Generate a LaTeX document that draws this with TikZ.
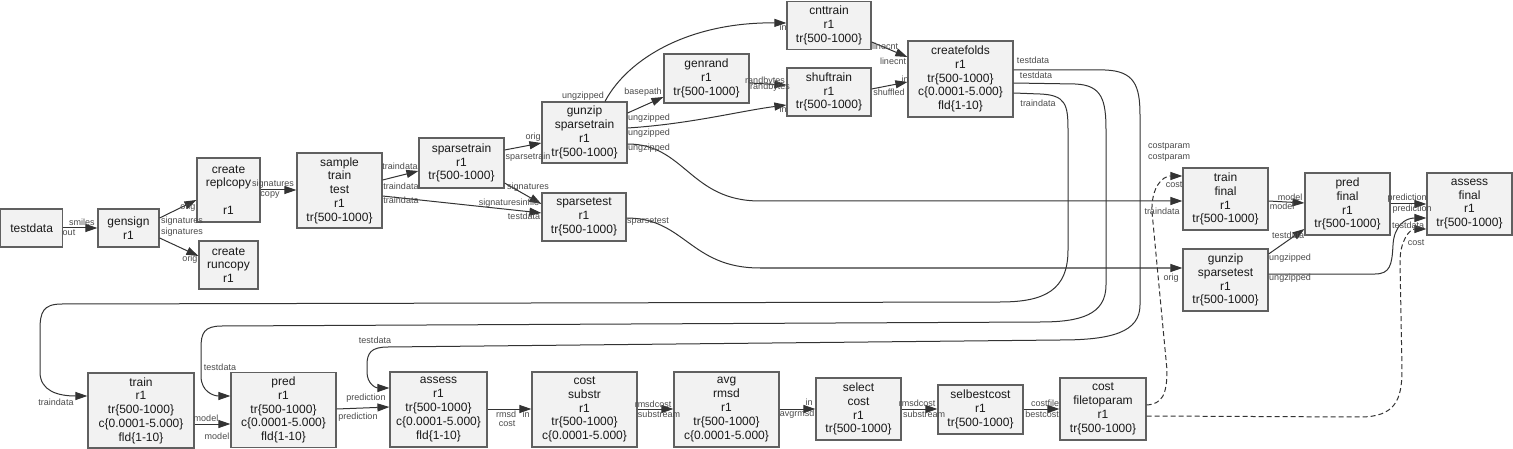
\documentclass[tikz,border=0pt]{standalone}
\usepackage{fontspec}
\setmainfont{Liberation Sans}
\usetikzlibrary{arrows.meta}
\definecolor{boxfill}{HTML}{F2F2F2}
\definecolor{boxline}{HTML}{606060}
\definecolor{edgecol}{HTML}{333333}
\definecolor{labcol}{HTML}{4A4A4A}
\begin{document}
\begin{tikzpicture}[x=1pt,y=-1pt,
  box/.style={draw=boxline,fill=boxfill,line width=1.2pt,inner sep=0pt,align=center,
    font=\fontsize{12}{13.8}\selectfont,text=black!90},
  sz/.style 2 args={minimum width=#1pt,minimum height=#2pt},
  lab/.style={inner sep=0pt,font=\fontsize{9}{10}\selectfont,text=labcol},
  edge/.style={draw=edgecol,line width=1pt,-{Triangle[length=12pt,width=8pt]}},
  dedge/.style={edge,dash pattern=on 5pt off 3pt}]
\useasboundingbox (0,0) rectangle (1513,449);

% ---------- nodes ----------
\node[box,sz={62}{38}] (testdata) at (31.6,228) {testdata};
\node[box,sz={61}{38}] (gensign) at (128.5,228) {gensign\\r1};
\node[box,sz={63}{64}] (replcopy) at (228.5,190) {create\\replcopy\\~\\r1};
\node[box,sz={59}{48}] (runcopy) at (228.5,265) {create\\runcopy\\r1};
\node[box,sz={85}{75}] (sample) at (339.5,190.5) {sample\\train\\test\\r1\\tr\{500-1000\}};
\node[box,sz={85}{50}] (sparsetrain) at (461.5,163) {sparsetrain\\r1\\tr\{500-1000\}};
\node[box,sz={84}{48}] (sparsetest) at (584,217) {sparsetest\\r1\\tr\{500-1000\}};
\node[box,sz={85}{61}] (gunzipsparsetrain) at (584.5,132.5) {gunzip\\sparsetrain\\r1\\tr\{500-1000\}};
\node[box,sz={85}{49}] (genrand) at (706.5,78.5) {genrand\\r1\\tr\{500-1000\}};
\node[box,sz={84}{48}] (cnttrain) at (829,25.5) {cnttrain\\r1\\tr\{500-1000\}};
\node[box,sz={84}{48}] (shuftrain) at (829,92) {shuftrain\\r1\\tr\{500-1000\}};
\node[box,sz={105}{76}] (createfolds) at (960.5,79) {createfolds\\r1\\tr\{500-1000\}\\c\{0.0001-5.000\}\\fld\{1-10\}};
\node[box,sz={85}{62}] (trainfinal) at (1225.5,199) {train\\final\\r1\\tr\{500-1000\}};
\node[box,sz={85}{62}] (predfinal) at (1347.5,204) {pred\\final\\r1\\tr\{500-1000\}};
\node[box,sz={85}{62}] (assessfinal) at (1469.5,204) {assess\\final\\r1\\tr\{500-1000\}};
\node[box,sz={85}{62}] (gunzipsparsetest) at (1225.5,280) {gunzip\\sparsetest\\r1\\tr\{500-1000\}};
\node[box,sz={106}{75}] (train) at (141,410.5) {train\\r1\\tr\{500-1000\}\\c\{0.0001-5.000\}\\fld\{1-10\}};
\node[box,sz={105}{75}] (pred) at (283.5,410) {pred\\r1\\tr\{500-1000\}\\c\{0.0001-5.000\}\\fld\{1-10\}};
\node[box,sz={97}{75}] (assess) at (438.5,409.5) {assess\\r1\\tr\{500-1000\}\\c\{0.0001-5.000\}\\fld\{1-10\}};
\node[box,sz={105}{75}] (costsubstr) at (584.5,409.5) {cost\\substr\\r1\\tr\{500-1000\}\\c\{0.0001-5.000\}};
\node[box,sz={105}{75}] (avgrmsd) at (726.5,409.5) {avg\\rmsd\\r1\\tr\{500-1000\}\\c\{0.0001-5.000\}};
\node[box,sz={85}{62}] (selectcost) at (858.5,409) {select\\cost\\r1\\tr\{500-1000\}};
\node[box,sz={85}{49}] (selbestcost) at (980.5,409.5) {selbestcost\\r1\\tr\{500-1000\}};
\node[box,sz={86}{62}] (costfiletoparam) at (1103,409) {cost\\filetoparam\\r1\\tr\{500-1000\}};

% ---------- straight connectors ----------
\draw[edge] (testdata.east |- 0,228) -- (gensign.west |- 0,228);
\draw[edge] (gensign.east |- 0,218) -- (replcopy.west |- 0,200);
\draw[edge] (gensign.east |- 0,238) -- (runcopy.west |- 0,256);
\draw[edge] (replcopy.east |- 0,190) -- (sample.west |- 0,190);
\draw[edge] (sample.east |- 0,180) -- (sparsetrain.west |- 0,171);
\draw[edge] (sample.east |- 0,196) -- (sparsetest.west |- 0,213);
\draw[edge] (sparsetrain.east |- 0,183) -- (sparsetest.west |- 0,204);
\draw[edge] (sparsetrain.east |- 0,150) -- (gunzipsparsetrain.west |- 0,143);
\draw[edge] (gunzipsparsetrain.east |- 0,113) -- (genrand.west |- 0,97);
\draw[edge] (gunzipsparsetrain.east |- 0,128) .. controls (690,124) and (740,111) .. (shuftrain.west |- 0,105);
\draw[edge] (genrand.east |- 0,83) -- (shuftrain.west |- 0,85);
\draw[edge] (cnttrain.east |- 0,42) -- (createfolds.west |- 0,57);
\draw[edge] (shuftrain.east |- 0,89) -- (createfolds.west |- 0,82);
\draw[edge] (train.east |- 0,424) -- (pred.west |- 0,424);
\draw[edge] (pred.east |- 0,409) -- (assess.west |- 0,407);
\draw[edge] (assess.east |- 0,409) -- (costsubstr.west |- 0,409);
\draw[edge] (costsubstr.east |- 0,409) -- (avgrmsd.west |- 0,409);
\draw[edge] (avgrmsd.east |- 0,409) -- (selectcost.west |- 0,409);
\draw[edge] (selectcost.east |- 0,409) -- (selbestcost.west |- 0,409);
\draw[edge] (selbestcost.east |- 0,409) -- (costfiletoparam.west |- 0,409);
\draw[edge] (trainfinal.east |- 0,201) -- (predfinal.west |- 0,203);
\draw[edge] (gunzipsparsetest.east |- 0,254) -- (predfinal.west |- 0,229);
\draw[edge] (predfinal.east |- 0,204) -- (assessfinal.west |- 0,204);

% ---------- curved connectors ----------
\draw[edge] (gunzipsparsetrain.north -| 605,0) .. controls (628,58) and (690,22) .. (cnttrain.west |- 0,23);
\draw[edge] (gunzipsparsetrain.east |- 0,144) .. controls (685,144) and (690,201) .. (760,201) -- (trainfinal.west |- 0,201);
\draw[edge] (sparsetest.east |- 0,218) .. controls (685,218) and (690,268) .. (760,268) -- (gunzipsparsetest.west |- 0,268);
% createfolds -> train
\draw[edge] (createfolds.east |- 0,93) -- (1040,94) .. controls (1066,95) and (1068,105) .. (1068,130)
  -- (1068,250) .. controls (1068,290) and (1045,302) .. (1000,302) -- (62,304)
  .. controls (43,304) and (40,312) .. (40,330) -- (40,372) .. controls (40,391) and (58,396) .. (train.west |- 0,396);
% createfolds -> pred
\draw[edge] (createfolds.east |- 0,83) -- (1075,84) .. controls (1102,85) and (1106,100) .. (1106,130)
  -- (1106,285) .. controls (1106,315) and (1080,322) .. (1040,322) -- (222,326)
  .. controls (204,326) and (201,333) .. (201,348) -- (201,376) .. controls (201,392) and (214,396) .. (pred.west |- 0,396);
% createfolds -> assess
\draw[edge] (createfolds.east |- 0,70) -- (1105,70) .. controls (1134,71) and (1140,85) .. (1140,115)
  -- (1140,305) .. controls (1140,332) and (1112,340) .. (1060,340) -- (388,347)
  .. controls (371,347) and (367,353) .. (367,365) -- (367,372) .. controls (367,384) and (376,388) .. (assess.west |- 0,388);
% gunzip sparsetest -> assess final
\draw[edge] (gunzipsparsetest.east |- 0,274) -- (1375,274) .. controls (1390,274) and (1392,265) .. (1393,245)
  .. controls (1394,226) and (1405,218) .. (assessfinal.west |- 0,218);
% dashed: cost filetoparam -> train final / assess final
\draw[dedge] (costfiletoparam.east |- 0,405) .. controls (1162,404) and (1167,395) .. (1167,370)
  -- (1152,212) .. controls (1151,188) and (1162,176) .. (trainfinal.west |- 0,176);
\draw[dedge] (costfiletoparam.east |- 0,416) -- (1360,417) .. controls (1395,417) and (1402,400) .. (1402,370)
  -- (1400,262) .. controls (1400,240) and (1410,229) .. (assessfinal.west |- 0,229);

% ---------- labels ----------
\node[lab] (l01) at (82,222) {smiles};
\node[lab] (l02) at (69,233) {out};
\node[lab] (l03) at (188,207) {orig};
\node[lab] (l04) at (182,221) {signatures};
\node[lab] (l05) at (182,232) {signatures};
\node[lab] (l06) at (190,259) {orig};
\node[lab] (l07) at (273,184) {signatures};
\node[lab] (l08) at (270,195) {copy};
\node[lab] (l09) at (400,166) {traindata};
\node[lab] (l10) at (401,186) {traindata};
\node[lab] (l11) at (401,200) {traindata};
\node[lab] (l12) at (524,216) {testdata};
\node[lab] (l13) at (528,187) {signatures};
\node[lab] (l14) at (509,203) {signaturesinfile};
\node[lab] (l15) at (533,137) {orig};
\node[lab] (l16) at (528,157) {sparsetrain};
\node[lab] (l17) at (583,96) {ungzipped};
\node[lab] (l18) at (783,27) {in};
\node[lab] (l19) at (643,92) {basepath};
\node[lab] (l20) at (649,118) {ungzipped};
\node[lab] (l21) at (649,133) {ungzipped};
\node[lab] (l22) at (783,109) {in};
\node[lab] (l23) at (649,148) {ungzipped};
\node[lab] (l24) at (1162,211) {traindata};
\node[lab] (l25) at (765,81) {randbytes};
\node[lab] (l26) at (770,87) {randbytes};
\node[lab] (l27) at (885,46) {linecnt};
\node[lab] (l28) at (893,61) {linecnt};
\node[lab] (l29) at (905,79) {in};
\node[lab] (l30) at (889,92) {shuffled};
\node[lab] (l31) at (1033,60) {testdata};
\node[lab] (l32) at (1036,75) {testdata};
\node[lab] (l33) at (1038,103) {traindata};
\node[lab] (l34) at (56,402) {traindata};
\node[lab] (l35) at (220,367) {testdata};
\node[lab] (l36) at (375,340) {testdata};
\node[lab] (l37) at (206,418) {model};
\node[lab] (l38) at (217,436) {model};
\node[lab] (l39) at (366,398) {prediction};
\node[lab] (l40) at (358,417) {prediction};
\node[lab] (l41) at (506,414) {rmsd};
\node[lab] (l42) at (507,424) {cost};
\node[lab] (l43) at (526,414) {in};
\node[lab] (l44) at (653,404) {rmsdcost};
\node[lab] (l45) at (659,414) {substream};
\node[lab] (l46) at (809,402) {in};
\node[lab] (l47) at (797,414) {avgrmsd};
\node[lab] (l48) at (917,403) {rmsdcost};
\node[lab] (l49) at (924,414) {substream};
\node[lab] (l50) at (1045,403) {costfile};
\node[lab] (l51) at (1042,414) {bestcost};
\node[lab] (l52) at (1169,147) {costparam};
\node[lab] (l53) at (1169,158) {costparam};
\node[lab] (l54) at (1174,185) {cost};
\node[lab] (l55) at (1171,278) {orig};
\node[lab] (l56) at (1290,197) {model};
\node[lab] (l57) at (1282,206) {model};
\node[lab] (l58) at (1288,235) {testdata};
\node[lab] (l59) at (1290,258) {ungzipped};
\node[lab] (l60) at (1290,278) {ungzipped};
\node[lab] (l61) at (1407,198) {prediction};
\node[lab] (l62) at (1412,209) {prediction};
\node[lab] (l63) at (1408,225) {testdata};
\node[lab] (l64) at (1416,243) {cost};
\node[lab] (l65) at (648,222) {sparsetest};
\end{tikzpicture}
\end{document}
